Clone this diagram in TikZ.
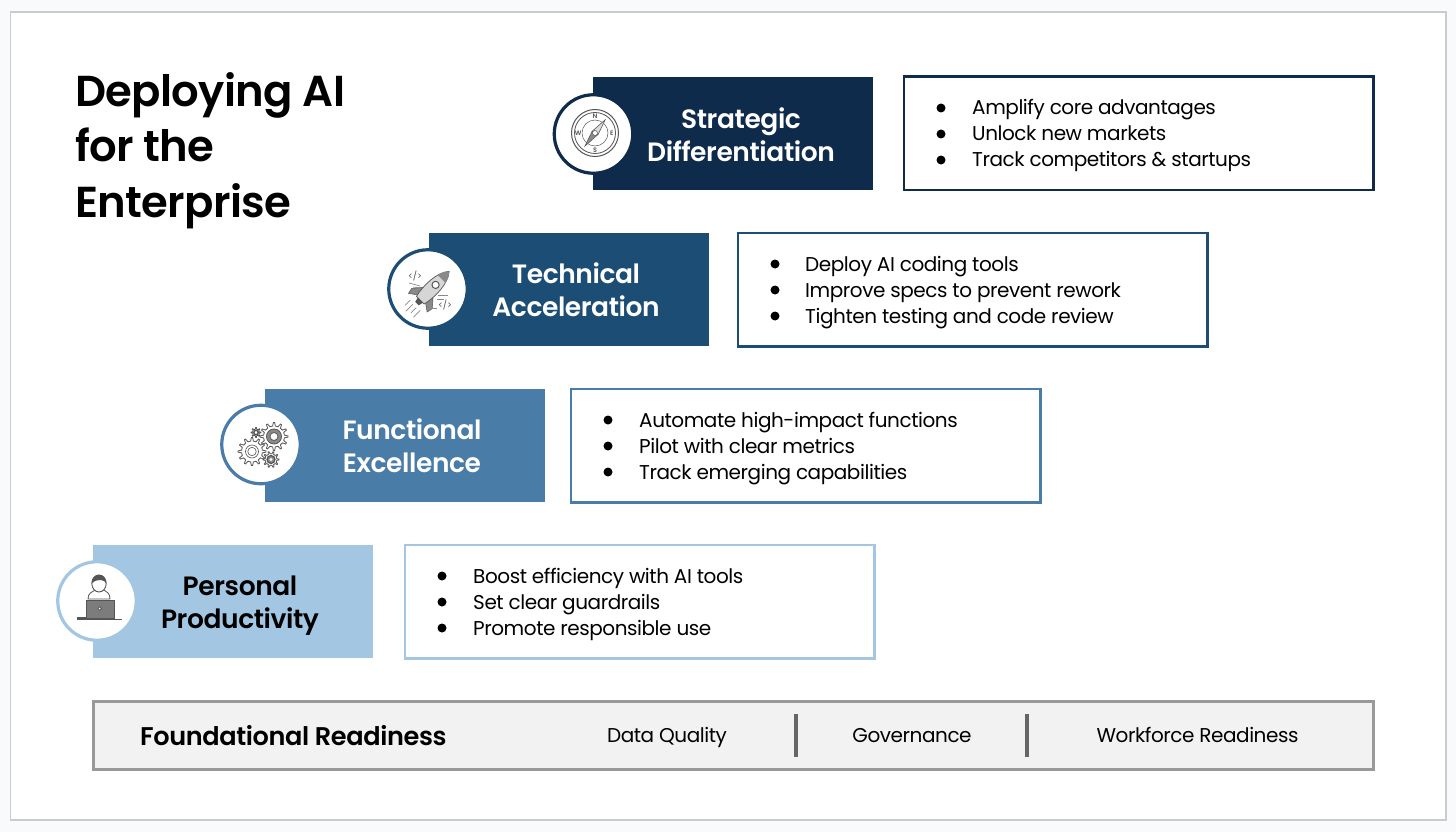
\documentclass[tikz,border=0pt]{standalone}
\usepackage{fontspec}
\setmainfont{Poppins}[LetterSpace=-2.2]
\newfontfamily\medfont{Poppins SemiBold}[LetterSpace=-1.5]
\definecolor{cA}{HTML}{0F2B4C}
\definecolor{cB}{HTML}{1C4E75}
\definecolor{cC}{HTML}{4A7CA8}
\definecolor{cD}{HTML}{A3C6E2}
\definecolor{pagebg}{HTML}{F8FAFC}
\definecolor{frameC}{HTML}{C8CCD0}
\definecolor{iconC}{HTML}{555555}
\definecolor{iconF}{HTML}{8A8A8A}
\tikzset{
  x=1pt,y=-1pt,
  tier/.style={draw=none,fill=#1,minimum width=280pt,minimum height=113pt,inner sep=0pt,outer sep=0pt,anchor=north west},
  detail/.style={draw=#1,line width=2.6pt,fill=white,minimum width=469.5pt,minimum height=113.5pt,inner sep=0pt,outer sep=0pt,anchor=north west},
  badge/.style={circle,draw=#1,line width=3.2pt,fill=white,minimum size=78.5pt,inner sep=0pt},
  tiertext/.style={align=center,anchor=base,font=\medfont\fontsize{26.5}{33}\selectfont,inner sep=0pt},
  itemtext/.style={anchor=base west,inner sep=0pt,font=\fontsize{20}{26}\selectfont,text=black},
  foottext/.style={anchor=base,inner sep=0pt,font=\fontsize{20}{26}\selectfont,text=black},
  dotmark/.style={circle,fill=black,minimum size=9pt,inner sep=0pt},
  icon/.style={draw=iconC,line width=.8pt},
}
\newcommand{\gearshape}[5]{% x y outer r, inner r, teeth
  \pgfmathsetmacro{\gstep}{360/#5}
  \pgfmathsetmacro{\gq}{\gstep/4}
  \draw[icon,fill=white] (#1+#3,#2)
  \foreach \ga in {0,\gstep,...,359.9}{
    -- ({#1+#3*cos(\ga+.35*\gq)},{#2+#3*sin(\ga+.35*\gq)})
    -- ({#1+#4*cos(\ga+1.0*\gq)},{#2+#4*sin(\ga+1.0*\gq)})
    -- ({#1+#4*cos(\ga+3.0*\gq)},{#2+#4*sin(\ga+3.0*\gq)})
    -- ({#1+#3*cos(\ga+3.65*\gq)},{#2+#3*sin(\ga+3.65*\gq)})
  } -- cycle;
}
\begin{document}
\begin{tikzpicture}
\useasboundingbox (0,0) rectangle (1456,832);
\fill[pagebg] (0,0) rectangle (1456,832);
\draw[frameC,line width=1.2pt,fill=white] (10.5,12) rectangle (1446,820);

\node[anchor=base west,align=left,inner sep=0pt,font=\medfont\fontsize{43.3}{55.5}\selectfont,text=black] (title) at (75,217) {Deploying AI\\for the\\Enterprise};

% Strategic
\node[tier=cA] (t4) at (593,77) {};
\node[tiertext,text=white] (t4t) at (741,161) {Strategic\\Differentiation};
\node[badge=cA] (b4) at (593.5,134) {};
\node[detail=cA] (d4) at (904,76.5) {};
\foreach \i/\tx in {0/Amplify core advantages,1/Unlock new markets,2/Track competitors \& startups}{
  \node[dotmark] (d4m\i) at (941,108+26*\i) {};
  \node[itemtext] (d4t\i) at (972,115+26*\i) {\tx};
}
% Technical
\node[tier=cB] (t3) at (429,233) {};
\node[tiertext,text=white] (t3t) at (576,316) {Technical\\Acceleration};
\node[badge=cB] (b3) at (428,289) {};
\node[detail=cB] (d3) at (738,233) {};
\foreach \i/\tx in {0/Deploy AI coding tools,1/Improve specs to prevent rework,2/Tighten testing and code review}{
  \node[dotmark] (d3m\i) at (775,264+26*\i) {};
  \node[itemtext] (d3t\i) at (805,271+26*\i) {\tx};
}
% Functional
\node[tier=cC] (t2) at (264.5,389) {};
\node[tiertext,text=white] (t2t) at (412,472) {Functional\\Excellence};
\node[badge=cC] (b2) at (261,444.5) {};
\node[detail=cC] (d2) at (571,389) {};
\foreach \i/\tx in {0/Automate high-impact functions,1/Pilot with clear metrics,2/Track emerging capabilities}{
  \node[dotmark] (d2m\i) at (608,420+26*\i) {};
  \node[itemtext] (d2t\i) at (639,427+26*\i) {\tx};
}
% Personal
\node[tier=cD] (t1) at (92.5,545) {};
\node[tiertext,text=black] (t1t) at (240,628) {Personal\\Productivity};
\node[badge=cD] (b1) at (97,601) {};
\node[detail=cD] (d1) at (405,545) {};
\foreach \i/\tx in {0/Boost efficiency with AI tools,1/Set clear guardrails,2/Promote responsible use}{
  \node[dotmark] (d1m\i) at (442,576+26*\i) {};
  \node[itemtext] (d1t\i) at (473,583+26*\i) {\tx};
}

% Foundation
\node[draw=black!40,line width=3pt,fill=black!5,minimum width=1280pt,minimum height=68pt,inner sep=0pt,outer sep=0pt,anchor=north west] (found) at (93.5,701) {};
\node[anchor=base west,inner sep=0pt,font=\medfont\fontsize{25.6}{30}\selectfont] (ft) at (140,745.5) {Foundational Readiness};
\node[foottext] (f1) at (667,742.5) {Data Quality};
\node[foottext] (f2) at (912,742.5) {Governance};
\node[foottext] (f3) at (1197.5,742.5) {Workforce Readiness};
\coordinate (s1a) at (796,714); \coordinate (s1b) at (796,757);
\coordinate (s2a) at (1027,714); \coordinate (s2b) at (1027,757);
\draw[black!60,line width=3.5pt] (s1a) -- (s1b);
\draw[black!60,line width=3.5pt] (s2a) -- (s2b);

% Compass
\begin{scope}[shift={(595,133)}]
  \draw[icon,line width=1pt] (0,0) circle (23.5);
  \draw[icon,line width=.8pt] (0,0) circle (20.5);
  \draw[icon,line width=.5pt] (0,0) circle (13);
  \foreach \l/\a/\b in {N/0/-16.8,S/0/16.8,E/16.8/0,W/-16.8/0}
    \node[inner sep=0pt,text=iconC,font=\medfont\fontsize{6.5}{7}\selectfont] at (\a,\b) {\l};
  \fill[iconF,draw=iconC,line width=.5pt] (10,-13) -- (3,1.5) -- (-10,13) -- (-3,-1.5) -- cycle;
  \fill[iconF!30,draw=iconC,line width=.4pt] (10,-13) -- (3,1.5) -- (-3,-1.5) -- cycle;
  \draw[icon,fill=white,line width=.5pt] (0,0) circle (2.5);
\end{scope}

% Rocket
\begin{scope}[shift={(428,289)}]
  \begin{scope}[shift={(2.5,1)},rotate=-45,scale=1.2]
    \fill[iconF,draw=iconC,line width=.5pt] (-6,3) -- (-12,10) -- (-11,15) -- (-4,10) -- cycle;
    \fill[iconF,draw=iconC,line width=.5pt] (6,3) -- (12,10) -- (11,15) -- (4,10) -- cycle;
    \fill[iconF!35,draw=iconC,line width=.7pt] (0,-22) .. controls (7,-14) and (7,2) .. (4.5,12) -- (-4.5,12) .. controls (-7,2) and (-7,-14) .. (0,-22) -- cycle;
    \fill[iconF] (0,-22) .. controls (3,-19) and (4,-16) .. (4.6,-13) -- (-4.6,-13) .. controls (-4,-16) and (-3,-19) .. (0,-22) -- cycle;
    \draw[icon,fill=white,line width=1pt] (0,-6) circle (3);
    \fill[iconC] (-3,12) -- (3,12) -- (2,16) -- (-2,16) -- cycle;
    \foreach \sx/\sy/\sl in {-6/18/6,-2/19/8,2/19/6,6/18/8}
      \draw[iconF,line width=.7pt] (\sx,\sy) -- ++(0,\sl);
  \end{scope}
  \node[inner sep=0pt,text=iconC,font=\fontsize{9}{10}\selectfont] (c1) at (-13,-13) {</>};
  \node[inner sep=0pt,text=iconC,font=\fontsize{9}{10}\selectfont] (c2) at (17,16) {</>};
  \draw[iconF,line width=.7pt] (-19,-6) -- (-8,-3);
  \draw[iconF,line width=.7pt] (-15,-2) -- (-8,-1);
  \draw[iconF,line width=.7pt] (10,6) -- (20,6);
  \draw[iconF,line width=.7pt] (9,10) -- (16,10);
  \draw[iconF,line width=.7pt] (1,19) -- (9,19);
\end{scope}

% Gears
\begin{scope}[shift={(261,444.5)}]
  \gearshape{13}{-8}{14}{10.5}{12}
  \draw[icon,fill=iconF] (13,-8) circle (7.5);
  \draw[icon,fill=white] (13,-8) circle (4);
  \gearshape{-9}{7}{14}{10.5}{12}
  \draw[icon,line width=.6pt] (-9,7) circle (6.5);
  \draw[icon,line width=.6pt] (-9,7) circle (4.2);
  \gearshape{-5}{-12}{5}{3.4}{8}
  \draw[iconC,line width=1.4pt] (-5,-12) circle (2.2);
  \gearshape{10}{15}{8}{5.8}{10}
  \draw[iconC,fill=iconF,line width=1.2pt] (10,15) circle (4);
  \fill[white] (10,15) circle (1.6);
\end{scope}

% Person
\begin{scope}[shift={(97,601)}]
  \draw[icon,fill=white,line width=.8pt] (-9,-2) .. controls (-9,-8) and (-5,-9) .. (-2,-11) -- (7,-11) .. controls (10,-9) and (13,-8) .. (13,-2) -- cycle;
  \draw[icon,fill=white,line width=.9pt] (2,-17.5) ellipse (7.2 and 8.5);
  \fill[iconC] (-5.2,-17.5) .. controls (-6,-29) and (10,-29) .. (9.2,-17.5) .. controls (8,-21.5) and (0,-23) .. (-5.2,-17.5) -- cycle;
  \fill[iconF!90!black,draw=iconC,line width=.7pt] (-11,-1) rectangle (17,17.5);
  \draw[icon,line width=.8pt,fill=white] (2.7,7.5) circle (1.8);
  \draw[iconC,line width=1pt] (-20,18) -- (25,18);
  \draw[iconC,line width=1.6pt] (-20,17) -- (-11,17);
\end{scope}
\end{tikzpicture}
\end{document}
